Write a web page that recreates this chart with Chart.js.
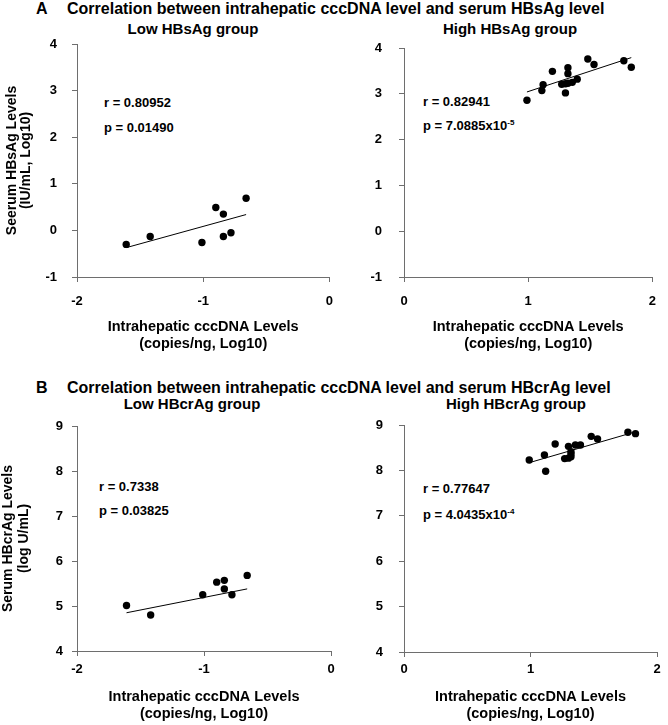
<!DOCTYPE html>
<html>
<head>
<meta charset="utf-8">
<script src="https://cdn.jsdelivr.net/npm/chart.js@4/dist/chart.umd.min.js"></script>
<style>
  body { margin: 0; background: #fff; width: 668px; height: 725px; position: relative; overflow: hidden;
         font-family: "Liberation Sans", Arial, sans-serif; font-weight: bold; color: #000; }
  canvas { position: absolute; }
  .t { position: absolute; white-space: nowrap; line-height: 1; }
  .c { text-align: center; width: 220px; }
  .sup { font-size: 8px; position: relative; top: -5px; }
</style>
</head>
<body>
<div class="t" style="left:36px;top:1px;font-size:16px">A</div>
<div class="t" style="left:67px;top:1px;font-size:16px">Correlation between intrahepatic cccDNA level and serum HBsAg level</div>
<div class="t c" style="left:83px;top:21px;font-size:15px">Low HBsAg group</div>
<div class="t c" style="left:400px;top:21px;font-size:15px">High HBsAg group</div>
<div class="t" style="left:104px;top:96px;font-size:13px">r = 0.80952</div>
<div class="t" style="left:104px;top:121px;font-size:13px">p = 0.01490</div>
<div class="t" style="left:423px;top:95px;font-size:13px">r = 0.82941</div>
<div class="t" style="left:423px;top:119px;font-size:13px">p = 7.0885x10<span class="sup">-5</span></div>

<div class="t" style="left:36px;top:380px;font-size:16px">B</div>
<div class="t" style="left:67px;top:380px;font-size:16px">Correlation between intrahepatic cccDNA level and serum HBcrAg level</div>
<div class="t c" style="left:82px;top:396px;font-size:15px">Low HBcrAg group</div>
<div class="t c" style="left:406px;top:396px;font-size:15px">High HBcrAg group</div>
<div class="t" style="left:99px;top:480px;font-size:13px">r = 0.7338</div>
<div class="t" style="left:99px;top:504px;font-size:13px">p = 0.03825</div>
<div class="t" style="left:423px;top:482px;font-size:13px">r = 0.77647</div>
<div class="t" style="left:423px;top:508px;font-size:13px">p = 4.0435x10<span class="sup">-4</span></div>

<canvas id="aLow" width="345" height="353" style="left:0;top:0"></canvas>
<canvas id="aHigh" width="323" height="353" style="left:345px;top:0"></canvas>
<canvas id="bLow" width="345" height="365" style="left:0;top:360px"></canvas>
<canvas id="bHigh" width="323" height="365" style="left:345px;top:360px"></canvas>

<script>
// cccDNA (x) for the low and high groups
const lowX = [-1.61, -1.42, -1.01, -0.90, -0.84, -0.84, -0.78, -0.66];
const highX = [0.99, 1.11, 1.12, 1.195, 1.27, 1.30, 1.32, 1.355, 1.395, 1.32, 1.32, 1.48, 1.53, 1.30, 1.77, 1.83];

// serum levels
const lowHBsAg = [-0.30, -0.13, -0.26, 0.49, 0.35, -0.13, -0.05, 0.69];
const highHBsAg = [2.86, 3.07, 3.20, 3.49, 3.21, 3.22, 3.23, 3.25, 3.32, 3.57, 3.44, 3.76, 3.64, 3.02, 3.72, 3.58];
const lowHBcrAg = [5.01, 4.80, 5.25, 5.53, 5.57, 5.38, 5.25, 5.68];
const highHBcrAg = [8.23, 8.34, 7.98, 8.58, 8.26, 8.27, 8.30, 8.56, 8.56, 8.36, 8.41, 8.75, 8.69, 8.53, 8.84, 8.81];

// fitted line end points
const lowFitX = [-1.61, -0.66];
const highFitX = [0.99, 1.83];
const lowHBsAgFit = [-0.37, 0.34];
const highHBsAgFit = [3.04, 3.79];
const lowHBcrAgFit = [4.85, 5.38];
const highHBcrAgFit = [8.17, 8.85];

// tick labels
const lowXTicks = [-2, -1, 0];
const highXTicks = [0, 1, 2];
const hbsTicks = [-1, 0, 1, 2, 3, 4];
const hbcrTicks = [4, 5, 6, 7, 8, 9];

const xTitle = ['Intrahepatic cccDNA Levels', '(copies/ng, Log10)'];
const AXIS = '#6e6e6e';
const FONT = '"Liberation Sans", Arial, sans-serif';

function toPoints(xs, ys) {
    return xs.map((x, i) => ({ x: x, y: ys[i] }));
}

function makePanel(id, p) {
    const axisBase = {
        type: 'linear',
        grid: { display: true, drawOnChartArea: false, drawTicks: true, tickLength: 5, color: AXIS },
        border: { display: true, color: AXIS, width: 1 }
    };
    const yTitle = p.yTitle
        ? { display: true, text: p.yTitle, color: '#000',
            font: { family: FONT, size: 14, weight: 'bold', lineHeight: p.yTitleLh },
            padding: { top: p.yTitlePad, bottom: 0 } }
        : { display: false };

    new Chart(document.getElementById(id), {
        type: 'scatter',
        data: {
            datasets: [{
                data: toPoints(p.xs, p.ys),
                backgroundColor: '#000',
                borderWidth: 0,
                pointRadius: 3.7,
                order: 0
            }, {
                data: toPoints(p.fitX, p.fitY),
                showLine: true,
                borderColor: '#000',
                borderWidth: 1,
                pointRadius: 0,
                order: 1
            }]
        },
        options: {
            responsive: false,
            animation: false,
            devicePixelRatio: 1,
            layout: { padding: { top: p.padTop, right: p.padRight, left: 0, bottom: 0 } },
            plugins: { legend: { display: false }, tooltip: { enabled: false } },
            scales: {
                x: Object.assign({}, axisBase, {
                    position: 'bottom',
                    min: p.xTicks[0],
                    max: p.xTicks[p.xTicks.length - 1],
                    afterBuildTicks: s => { s.ticks = p.xTicks.map(v => ({ value: v })); },
                    afterFit: s => { s.height = p.xHeight; },
                    ticks: { color: '#000', padding: p.xTickPad, font: { family: FONT, size: 13, weight: 'bold' } },
                    title: { display: true, text: xTitle, color: '#000',
                             font: { family: FONT, size: 14.5, weight: 'bold', lineHeight: 1.17 },
                             padding: { top: 0, bottom: p.xTitlePad } }
                }),
                y: Object.assign({}, axisBase, {
                    position: 'left',
                    min: p.yTicks[0],
                    max: p.yTicks[p.yTicks.length - 1],
                    afterBuildTicks: s => { s.ticks = p.yTicks.map(v => ({ value: v })); },
                    afterFit: s => { s.width = p.yWidth; },
                    ticks: { color: '#000', padding: p.yTickPad, font: { family: FONT, size: 13, weight: 'bold' } },
                    title: yTitle
                })
            }
        }
    });
}

makePanel('aLow', {
    xs: lowX, ys: lowHBsAg, fitX: lowFitX, fitY: lowHBsAgFit,
    xTicks: lowXTicks, yTicks: hbsTicks,
    padTop: 44, padRight: 8, yWidth: 77, xHeight: 76,
    xTickPad: 12, yTickPad: 15, xTitlePad: 1,
    yTitle: ['Seerum HBsAg Levels', '(IU/mL, Log10)'], yTitleLh: 0.97, yTitlePad: 5.5
});
makePanel('aHigh', {
    xs: highX, ys: highHBsAg, fitX: highFitX, fitY: highHBsAgFit,
    xTicks: highXTicks, yTicks: hbsTicks,
    padTop: 48, padRight: 11, yWidth: 59, xHeight: 76,
    xTickPad: 12, yTickPad: 17, xTitlePad: 1
});
makePanel('bLow', {
    xs: lowX, ys: lowHBcrAg, fitX: lowFitX, fitY: lowHBcrAgFit,
    xTicks: lowXTicks, yTicks: hbcrTicks,
    padTop: 66, padRight: 14, yWidth: 77, xHeight: 74,
    xTickPad: 6, yTickPad: 9, xTitlePad: 3,
    yTitle: ['Serum HBcrAg Levels', '(log U/mL)'], yTitleLh: 1.15, yTitlePad: 0
});
makePanel('bHigh', {
    xs: highX, ys: highHBcrAg, fitX: highFitX, fitY: highHBcrAgFit,
    xTicks: highXTicks, yTicks: hbcrTicks,
    padTop: 65, padRight: 11, yWidth: 59, xHeight: 73,
    xTickPad: 5, yTickPad: 16, xTitlePad: 3
});
</script>
</body>
</html>
